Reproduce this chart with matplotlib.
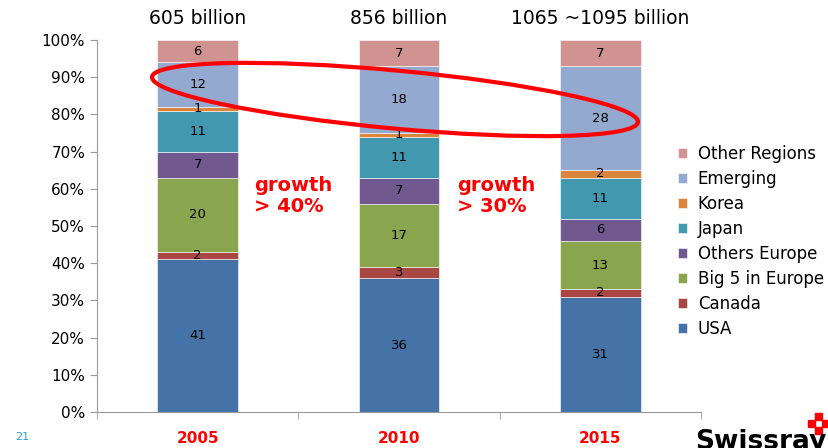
import matplotlib
matplotlib.use("Agg")
import matplotlib.pyplot as plt
from matplotlib.patches import Ellipse, Rectangle
from matplotlib.transforms import IdentityTransform
import numpy as np

years = ["2005", "2010", "2015"]
totals = ["605 billion", "856 billion", "1065 ~1095 billion"]
regions = ["USA", "Canada", "Big 5 in Europe", "Others Europe",
           "Japan", "Korea", "Emerging", "Other Regions"]
usa = [41, 36, 31]
canada = [2, 3, 2]
big5 = [20, 17, 13]
others_europe = [7, 7, 6]
japan = [11, 11, 11]
korea = [1, 1, 2]
emerging = [12, 18, 28]
other_regions = [6, 7, 7]
series = [usa, canada, big5, others_europe, japan, korea, emerging, other_regions]
colors = ["#4573A7", "#AA4643", "#89A54E", "#71588F",
          "#4198AF", "#DB843D", "#93A9CF", "#D19392"]
growth = ["growth\n> 40%", "growth\n> 30%"]

W, H = 829, 448
fig = plt.figure(figsize=(W / 100, H / 100), dpi=100)
ax = fig.add_axes([97 / W, 1 - 412 / H, 604 / W, 372 / H])

x = np.arange(len(years))
bottom = np.zeros(len(years))
handles = []
for vals, col, name in zip(series, colors, regions):
    bars = ax.bar(x, vals, 0.4, bottom=bottom, color=col, edgecolor="white",
                  linewidth=0.4, label=name)
    handles.append(bars)
    for xi, b, v in zip(x, bottom, vals):
        ax.text(xi, b + v / 2, str(v), ha="center", va="center", fontsize=9.5)
    bottom += np.array(vals)

ax.set_xlim(-0.5, 2.5)
ax.set_ylim(0, 100)
ax.set_yticks(np.arange(0, 101, 10))
ax.set_yticklabels([f"{t}%" for t in range(0, 101, 10)], fontsize=11)
ax.set_xticks(x)
ax.set_xticklabels(years, color="red", fontweight="bold", fontsize=11)
ax.set_xticks([-0.5, 0.5, 1.5, 2.5], minor=True)
ax.tick_params(axis="x", which="major", length=0, pad=14)
ax.tick_params(axis="x", which="minor", length=5, color="#999999")
ax.tick_params(axis="y", length=5, color="#999999")
for s in ["top", "right"]:
    ax.spines[s].set_visible(False)
for s in ["left", "bottom"]:
    ax.spines[s].set_color("#999999")

# totals above the bars
for xi, t in zip(x, totals):
    ax.text(xi, 103.3, t, ha="center", va="bottom", fontsize=13.5, clip_on=False)

# growth annotations
for xi, g in zip([0.28, 1.29], growth):
    ax.text(xi, 58, g, color="red", fontweight="bold", fontsize=14,
            ha="left", va="center", linespacing=1.1)

# legend
leg = ax.legend(handles[::-1], regions[::-1], loc="upper left",
                bbox_to_anchor=(671 / W, 1 - 138 / H),
                bbox_transform=fig.transFigure, frameon=False, fontsize=12,
                handlelength=0.55, handleheight=0.55, handletextpad=0.65,
                labelspacing=0.42, borderaxespad=0)

# red ellipse around the emerging segments
fig.add_artist(Ellipse((395, H - 99.5), 488, 58, angle=-5.3, fill=False,
                       edgecolor="red", linewidth=3,
                       transform=IdentityTransform()))

# page number and logo
fig.text(15 / W, 1 - 437 / H, "21", color="#2AA1D6", fontsize=8,
         ha="left", va="center")
fig.text(695 / W, -7 / H, "Swissray", fontsize=19, fontweight="bold",
         ha="left", va="bottom")
for (px, py) in [(815, 413), (822, 420), (815, 427), (808, 420)]:
    fig.add_artist(Rectangle((px / W, 1 - py / H - 7 / H), 7 / W, 7 / H,
                             color="red", transform=fig.transFigure))

fig.savefig("out.png", dpi=100)
